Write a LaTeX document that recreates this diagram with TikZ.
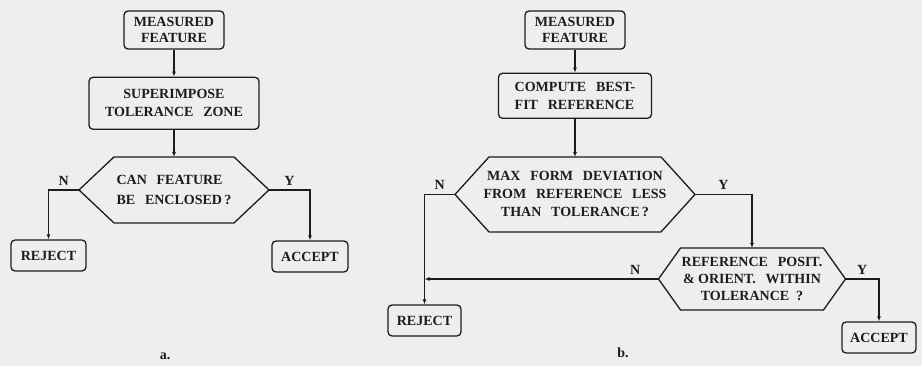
\documentclass[tikz,border=0pt]{standalone}
\usepackage{fontspec}
\setmainfont{Liberation Serif}
\usetikzlibrary{positioning, arrows.meta}
\definecolor{paper}{RGB}{238,238,238}
\definecolor{ink}{RGB}{28,28,28}
\newcommand{\gap}{\hspace{0.7em}}
\newcommand{\hexframe}[2]{%
  \draw[frame] (#1.west) -- ([xshift=#2]#1.north west) -- ([xshift=-#2]#1.north east)
    -- (#1.east) -- ([xshift=-#2]#1.south east) -- ([xshift=#2]#1.south west) -- cycle;}
\tikzset{
  frame/.style={draw=ink, line width=1.3pt, line join=round},
  box/.style={
    draw=ink, rounded corners=4pt, line width=1.3pt,
    text=ink, font=\fontsize{14}{18}\selectfont\bfseries,
    align=center, inner sep=3pt
  },
  decision/.style={
    text=ink, font=\fontsize{14}{18}\selectfont\bfseries,
    align=center, inner sep=0pt, outer sep=0pt
  },
  arrow/.style={-{Latex[length=5pt,width=4pt]}, line width=1.3pt, ink},
  yn/.style={font=\fontsize{14}{14}\selectfont\bfseries, text=ink, inner sep=4pt},
  caption/.style={font=\fontsize{14}{14}\selectfont\bfseries, text=ink}
}

\begin{document}
\begin{tikzpicture}[x=1pt, y=-1pt]
  \fill[paper] (0,0) rectangle (922,366);
  \useasboundingbox (0,0) rectangle (922,366);

  % a.
  \node[box, minimum width=100pt, minimum height=38pt, font=\fontsize{14}{15.5}\selectfont\bfseries] (meas_a) at (174,30) {MEASURED\\FEATURE};
  \node[box, minimum width=170pt, minimum height=52pt, below=27pt of meas_a] (sup_a) {SUPERIMPOSE\\TOLERANCE\gap ZONE};
  \node[decision, minimum width=190pt, minimum height=66pt, below=27pt of sup_a, align=left, font=\fontsize{14}{20}\selectfont\bfseries] (can_a) {CAN\gap FEATURE\\BE\gap ENCLOSED\,?};
  \hexframe{can_a}{35pt}
  \node[box, minimum width=75pt, minimum height=31pt] (rej_a) at (48.5,255.5) {REJECT};
  \node[box, minimum width=76pt, minimum height=31pt] (acc_a) at (310,256.5) {ACCEPT};

  \draw[arrow] (meas_a) -- (sup_a);
  \draw[arrow] (sup_a) -- (can_a);
  \draw[arrow] (can_a.west) -| node[yn, pos=0.25, above]{N} (rej_a.north);
  \draw[arrow] (can_a.east) -| node[yn, pos=0.25, above]{Y} (acc_a.north);

  \node[caption] (cap_a) at (165,356) {a.};

  % b.
  \node[box, minimum width=100pt, minimum height=38pt, font=\fontsize{14}{15.5}\selectfont\bfseries] (meas_b) at (575,30) {MEASURED\\FEATURE};
  \node[box, minimum width=153pt, minimum height=45pt, below=23pt of meas_b, align=left] (comp_b) {COMPUTE\gap BEST-\\FIT\gap REFERENCE};
  \node[decision, minimum width=240pt, minimum height=75pt, below=38pt of comp_b] (form_b) {MAX\gap FORM\gap DEVIATION\\FROM\gap REFERENCE\gap LESS\\THAN\gap TOLERANCE\,?};
  \hexframe{form_b}{34pt}
  \node[decision, minimum width=187pt, minimum height=62pt, font=\fontsize{14}{17}\selectfont\bfseries] (pos_b) at (752,279) {REFERENCE\gap POSIT.\\\&\ ORIENT.\gap WITHIN\\TOLERANCE\ \ ?};
  \hexframe{pos_b}{22pt}
  \node[box, minimum width=73pt, minimum height=31pt] (rej_b) at (424.5,320.5) {REJECT};
  \node[box, minimum width=74pt, minimum height=31pt] (acc_b) at (879,337.5) {ACCEPT};

  \draw[arrow] (meas_b) -- (comp_b);
  \draw[arrow] (comp_b) -- (form_b);
  \draw[arrow] (form_b.west) -| node[yn, pos=0.25, above]{N} (rej_b.north);
  \draw[arrow] (form_b.east) -| node[yn, pos=0.25, above]{Y} (pos_b.north);
  \draw[arrow] (pos_b.west) -- node[yn, pos=0.1, above]{N} (pos_b.west -| rej_b.north);
  \draw[arrow] (pos_b.east) -| node[yn, pos=0.25, above]{Y} (acc_b.north);

  \node[caption] (cap_b) at (623,353) {b.};
\end{tikzpicture}
\end{document}
